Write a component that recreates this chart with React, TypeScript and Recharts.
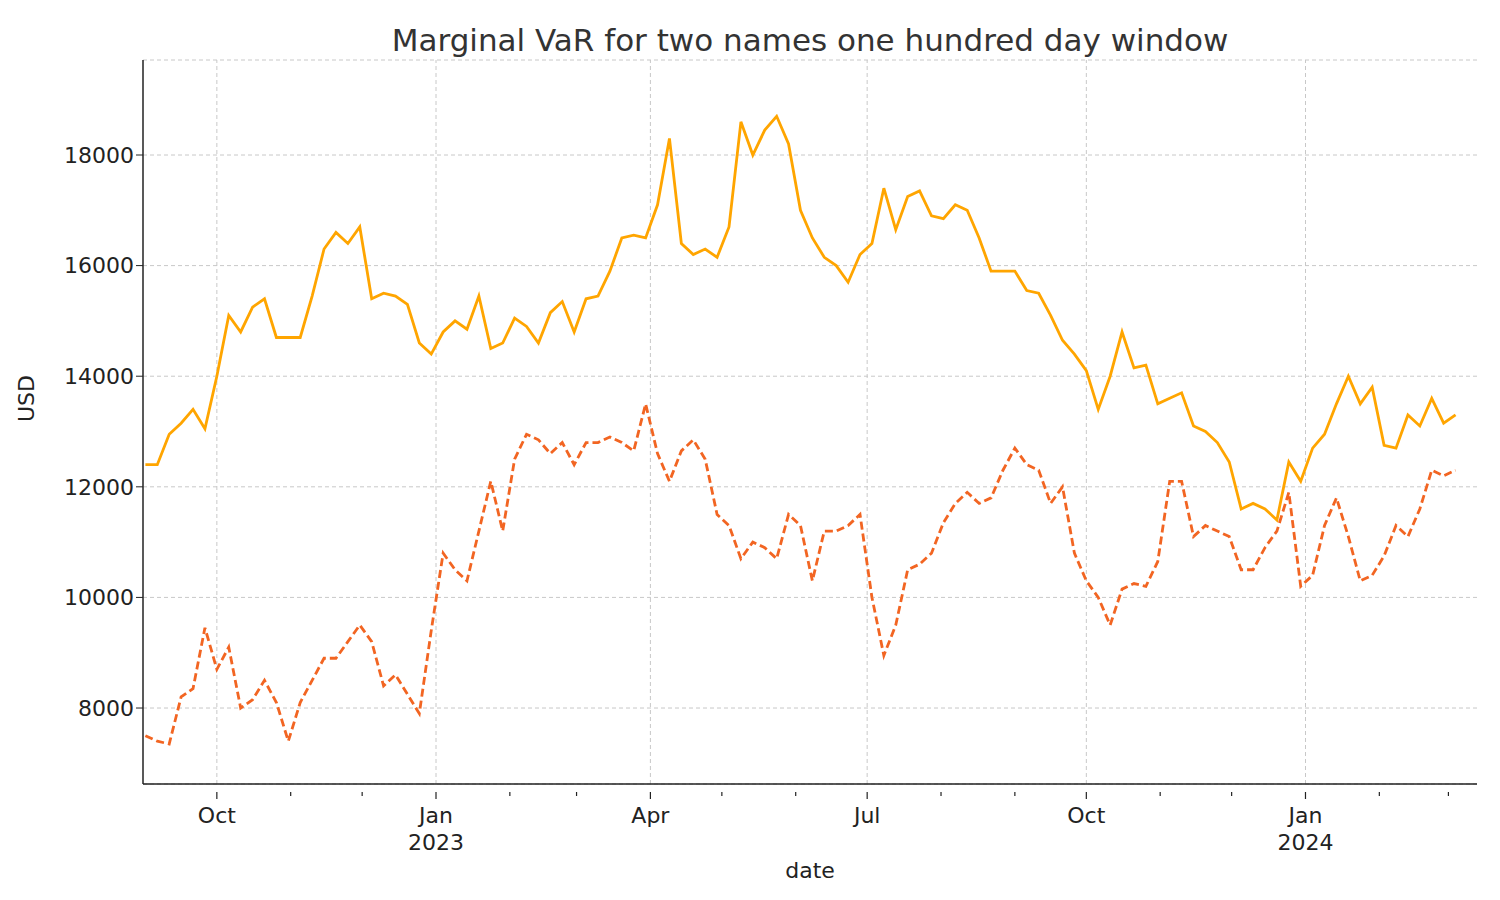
import React from "react"
import {
    LineChart,
    Line,
    XAxis,
    YAxis,
    CartesianGrid,
    ReferenceLine,
} from "recharts"

const DAY = 86400000
const START = Date.UTC(2022, 8, 1)
const END = Date.UTC(2024, 2, 13)
const STEP_DAYS = 5

const nameA = [
    12400, 12400, 12950, 13150, 13400, 13050, 14000, 15100, 14800, 15250,
    15400, 14700, 14700, 14700, 15450, 16300, 16600, 16400, 16700, 15400,
    15500, 15450, 15300, 14600, 14400, 14800, 15000, 14850, 15450, 14500,
    14600, 15050, 14900, 14600, 15150, 15350, 14800, 15400, 15450, 15900,
    16500, 16550, 16500, 17100, 18300, 16400, 16200, 16300, 16150, 16700,
    18600, 18000, 18450, 18700, 18200, 17000, 16500, 16150, 16000, 15700,
    16200, 16400, 17400, 16650, 17250, 17350, 16900, 16850, 17100, 17000,
    16500, 15900, 15900, 15900, 15550, 15500, 15100, 14650, 14400, 14100,
    13400, 14000, 14800, 14150, 14200, 13500, 13600, 13700, 13100, 13000,
    12800, 12450, 11600, 11700, 11600, 11400, 12450, 12100, 12700, 12950,
    13500, 14000, 13500, 13800, 12750, 12700, 13300, 13100, 13600, 13150,
    13300,
]

const nameB = [
    7500, 7400, 7350, 8200, 8350, 9450, 8700, 9100, 8000, 8150,
    8500, 8100, 7400, 8100, 8500, 8900, 8900, 9200, 9500, 9200,
    8400, 8600, 8250, 7900, 9400, 10800, 10500, 10300, 11200, 12100,
    11200, 12500, 12950, 12850, 12600, 12800, 12400, 12800, 12800, 12900,
    12800, 12650, 13500, 12600, 12100, 12650, 12850, 12500, 11500, 11300,
    10700, 11000, 10900, 10700, 11500, 11300, 10300, 11200, 11200, 11300,
    11500, 10000, 8950, 9500, 10500, 10600, 10800, 11350, 11700, 11900,
    11700, 11800, 12300, 12700, 12400, 12300, 11700, 12000, 10800, 10300,
    10000, 9500, 10150, 10250, 10200, 10650, 12100, 12100, 11100, 11300,
    11200, 11100, 10500, 10500, 10900, 11200, 11900, 10200, 10400, 11300,
    11800, 11100, 10300, 10400, 10750, 11300, 11100, 11600, 12300, 12200,
    12300,
]

const monthTicks: number[] = []
for (let m = 9; m <= 26; m++) {
    monthTicks.push(Date.UTC(2022, m, 1))
}
const yTicks = [8000, 10000, 12000, 14000, 16000, 18000]

const data = nameA.map((a, i) => ({
    date: START + i * STEP_DAYS * DAY,
    a,
    b: nameB[i],
}))

const FONT = "DejaVu Sans, sans-serif"
const MONTHS = ["Jan", "Feb", "Mar", "Apr", "May", "Jun", "Jul", "Aug", "Sep", "Oct", "Nov", "Dec"]

function MonthTick(props: any) {
    const { x, y, payload } = props
    const d = new Date(payload.value)
    const m = d.getUTCMonth()
    const major = m % 3 === 0
    return (
        <g>
            <line x1={x} x2={x} y1={y} y2={y + (major ? 7 : 4)} stroke="#222" strokeWidth={1.2} />
            {major && (
                <text x={x} y={y + 31} textAnchor="middle" fontSize={22} fill="#222" fontFamily={FONT}>
                    {MONTHS[m]}
                </text>
            )}
            {major && m === 0 && (
                <text x={x} y={y + 58} textAnchor="middle" fontSize={22} fill="#222" fontFamily={FONT}>
                    {d.getUTCFullYear()}
                </text>
            )}
        </g>
    )
}

export default function App() {
    const majors = monthTicks.filter((t) => new Date(t).getUTCMonth() % 3 === 0)
    return (
        <div style={{ width: 1500, height: 892, position: "relative", fontFamily: FONT }}>
            <div style={{ position: "absolute", top: 14, left: 0, width: 1604, textAlign: "center", fontSize: 31, color: "#333" }}>
                Marginal VaR for two names one hundred day window
            </div>
            <LineChart
                width={1500}
                height={892}
                data={data}
                margin={{ top: 52, right: 31, left: 0, bottom: 0 }}
            >
                <CartesianGrid vertical={false} stroke="#c8c8c8" strokeDasharray="4 3" />
                {majors.map((t) => (
                    <ReferenceLine key={t} x={t} stroke="#c8c8c8" strokeDasharray="4 3" />
                ))}
                <XAxis
                    dataKey="date"
                    type="number"
                    domain={[START - DAY, END]}
                    ticks={monthTicks}
                    interval={0}
                    tick={<MonthTick />}
                    tickLine={false}
                    axisLine={{ stroke: "#222", strokeWidth: 1.5 }}
                    height={116}
                    allowDataOverflow
                    label={{ value: "date", position: "insideBottom", offset: 22, fontSize: 22, fill: "#222", fontFamily: FONT }}
                />
                <YAxis
                    domain={[6626, 19718]}
                    ticks={yTicks}
                    width={135}
                    allowDataOverflow
                    tick={{ fontSize: 22, fill: "#222", fontFamily: FONT }}
                    tickLine={{ stroke: "#222" }}
                    tickSize={7}
                    axisLine={{ stroke: "#222", strokeWidth: 1.5 }}
                    label={{ value: "USD", angle: -90, position: "insideLeft", offset: 18, fontSize: 22, fill: "#222", fontFamily: FONT }}
                />
                <Line
                    dataKey="a"
                    stroke="#FFA500"
                    strokeWidth={2.8}
                    dot={false}
                    isAnimationActive={false}
                />
                <Line
                    dataKey="b"
                    stroke="#F26522"
                    strokeWidth={2.8}
                    strokeDasharray="8 4"
                    dot={false}
                    isAnimationActive={false}
                />
            </LineChart>
        </div>
    )
}
